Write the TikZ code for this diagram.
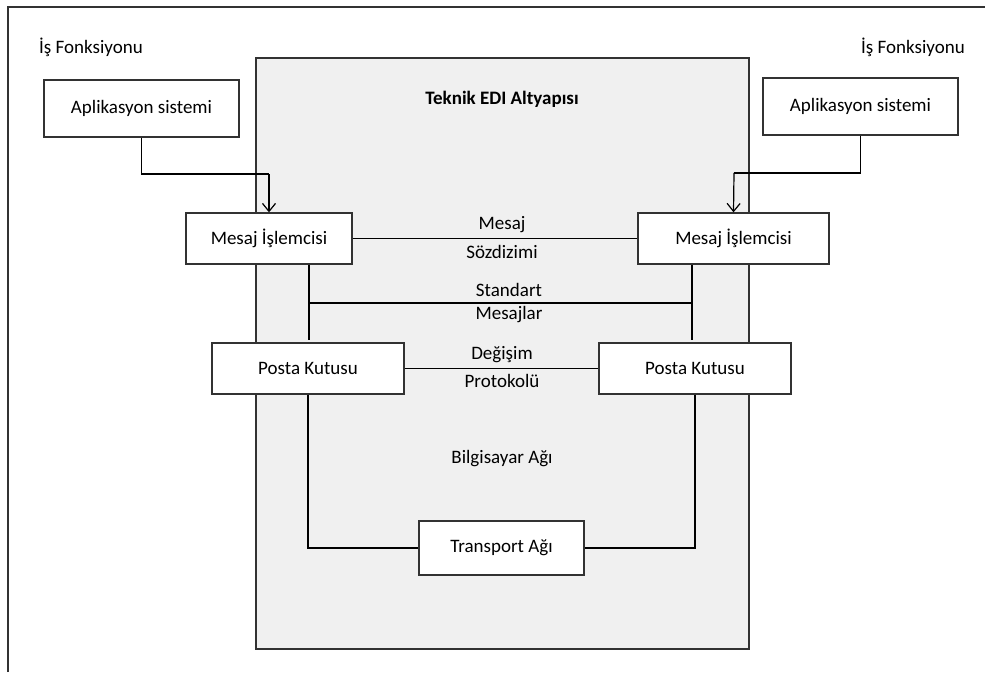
\documentclass[tikz,border=0pt]{standalone}
\usepackage{fontspec}
\setmainfont{Carlito}
\usetikzlibrary{arrows.meta}
\definecolor{panelgray}{RGB}{240,240,240}
\definecolor{edgegray}{RGB}{50,50,50}
\begin{document}
\begin{tikzpicture}[x=1pt,y=-1pt,
  every node/.style={font=\fontsize{19}{23}\selectfont, inner sep=0pt},
  box/.style={draw=edgegray, line width=1.3pt, fill=white, minimum height=51pt},
  wire/.style={draw=black, line width=1.2pt},
  arr/.style={wire, -{Straight Barb[length=8pt,width=13pt,line width=1.2pt]}},
  lbl/.style={anchor=center}
]
\useasboundingbox (0,0) rectangle (985,672);
% outer frame (only its top and left edges fall inside the page)
\draw[edgegray, line width=1.3pt] (8,672) -- (8,7) -- (985,7);

% technical infrastructure panel
\draw[draw=edgegray, fill=panelgray, line width=1.4pt] (256,58) rectangle (749,649);
\node[font=\fontsize{19}{23}\selectfont\bfseries] (title) at (502,99) {Teknik EDI Altyapısı};
\node (net) at (502,459) {Bilgisayar Ağı};

% business function side
\node (fnL) at (91,47) {İş Fonksiyonu};
\node (fnR) at (913,47) {İş Fonksiyonu};
\node[box, minimum width=195pt, minimum height=57pt] (appL) at (141.5,108.5) {Aplikasyon sistemi};
\node[box, minimum width=195pt, minimum height=57pt] (appR) at (860.5,106.5) {Aplikasyon sistemi};

% message processors and mailboxes
\node[box, minimum width=166pt] (mpL) at (269,238.5) {Mesaj İşlemcisi};
\node[box, minimum width=191pt] (mpR) at (733.5,238.5) {Mesaj İşlemcisi};
\node[box, minimum width=192pt] (pkL) at (308,368.5) {Posta Kutusu};
\node[box, minimum width=192pt] (pkR) at (695,368.5) {Posta Kutusu};
\node[box, minimum width=165pt, minimum height=54pt] (tr) at (501.5,548) {Transport Ağı};

% application to message processor
\coordinate (kL) at (269,174);
\coordinate (kR) at (734,173);
\draw[wire] (appL.south) |- (kL);
\draw[arr] (kL) -- (mpL.north);
\draw[wire] (appR.south) |- (kR);
\draw[arr] (kR) -- (mpR.north);

% message syntax
\draw[wire] (mpL) -- (mpR);
\node (l1a) at (502,225) {Mesaj};
\node (l1b) at (502,252) {Sözdizimi};

% standard messages
\coordinate (sL) at (309,303);
\coordinate (sR) at (692,303);
\coordinate (sLe) at (309,340);
\coordinate (sRe) at (692,340);
\draw[wire] (sL |- mpL.south) -- (sLe);
\draw[wire] (sR |- mpR.south) -- (sRe);
\draw[wire] (sL) -- (sR);
\node (l2a) at (509,290) {Standart};
\node (l2b) at (509,315) {Mesajlar};

% exchange protocol
\draw[wire] (pkL) -- (pkR);
\node (l3a) at (502,355) {Değişim};
\node (l3b) at (502,381) {Protokolü};

% transport network
\draw[wire] (pkL.south) |- (tr.west);
\draw[wire] (pkR.south) |- (tr.east);
\end{tikzpicture}
\end{document}
